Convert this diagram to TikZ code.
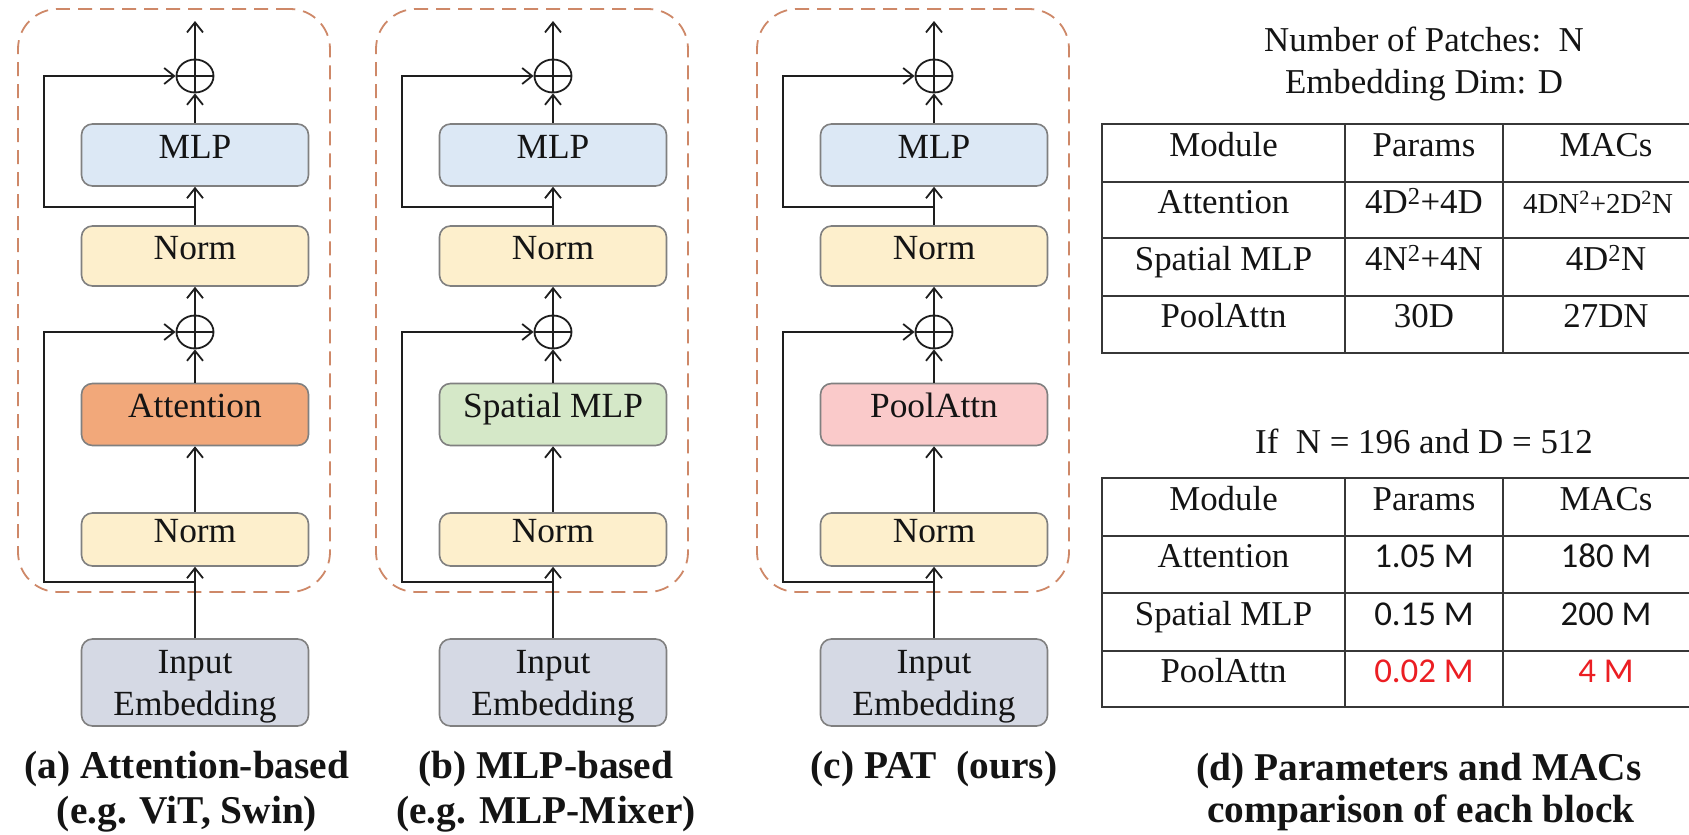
\documentclass[tikz,border=0pt]{standalone}
\usepackage{fontspec}
\setmainfont{Liberation Serif}
\newfontfamily\calib{Carlito}
\usetikzlibrary{arrows.meta,shapes.geometric}
\definecolor{mlpc}{RGB}{220,232,245}
\definecolor{normc}{RGB}{253,239,204}
\definecolor{attc}{RGB}{242,168,122}
\definecolor{smlpc}{RGB}{213,232,200}
\definecolor{poolc}{RGB}{250,202,202}
\definecolor{inpc}{RGB}{213,217,228}
\definecolor{bordc}{RGB}{128,128,128}
\definecolor{dashc}{RGB}{206,136,104}
\definecolor{txtc}{RGB}{20,20,20}
\definecolor{linec}{RGB}{30,30,30}
\definecolor{tabc}{RGB}{55,55,55}
\definecolor{redc}{RGB}{235,30,35}
\tikzset{
  blk/.style={draw=bordc, line width=1.6bp, rounded corners=11bp, minimum width=227bp,
    inner sep=0pt, text=txtc, font=\fontsize{35.5}{42}\selectfont},
  lbl/.style={text height=0.66em, text depth=0pt},
  dashbox/.style={draw=dashc, line width=1.8bp, dash pattern=on 14bp off 8bp, rounded corners=40bp,
    minimum width=312bp, minimum height=583bp, inner sep=0pt},
  sumnode/.style={ellipse, draw=linec, line width=1.8bp, minimum width=37bp, minimum height=33bp, inner sep=0pt},
  conn/.style={draw=linec, line width=1.8bp},
  arr/.style={conn, -{Straight Barb[length=10bp, width=16bp, line width=1.8bp]}},
  cell/.style={text=txtc, inner sep=0pt, text height=0.66em, text depth=0pt, font=\fontsize{35}{40}\selectfont},
  hdr/.style={text=txtc, inner sep=0pt, anchor=base, font=\fontsize{35}{40}\selectfont},
  capt/.style={text=txtc, inner sep=0pt, anchor=base, font=\fontsize{39.5}{45}\selectfont\bfseries},
  tline/.style={draw=tabc, line width=2bp},
}
\newcommand\drawpanel[4]{%
  \node[dashbox] (#1-box) at ({#2-21},300.5) {};
  \node[blk, lbl, fill=mlpc, minimum height=62bp] (#1-mlp) at (#2,155) {MLP};
  \node[blk, lbl, fill=normc, minimum height=60bp] (#1-n2) at (#2,256) {Norm};
  \node[blk, lbl, fill=#4, minimum height=62bp] (#1-mix) at (#2,414.5) {#3};
  \node[blk, lbl, fill=normc, minimum height=53bp] (#1-n1) at (#2,539.5) {Norm};
  \node[blk, fill=inpc, minimum height=87bp, align=center, text depth=0pt] (#1-in) at (#2,682.5) {Input\\Embedding};
  \node[sumnode] (#1-s2) at (#2,76) {};
  \node[sumnode] (#1-s1) at (#2,332) {};
  \draw[conn] (#1-s2.north) -- (#1-s2.south) (#1-s2.west) -- (#1-s2.east);
  \draw[conn] (#1-s1.north) -- (#1-s1.south) (#1-s1.west) -- (#1-s1.east);
  \coordinate (#1-out) at (#2,21);
  \coordinate (#1-b2) at (#2,207);
  \coordinate (#1-b1) at (#2,582);
  \coordinate (#1-k2) at ({#2-151},207);
  \coordinate (#1-k1) at ({#2-151},582);
  \draw[arr] (#1-s2.north) -- (#1-out);
  \draw[arr] (#1-mlp.north) -- (#1-s2.south);
  \draw[arr] (#1-n2.north) -- (#1-mlp.south);
  \draw[arr] (#1-s1.north) -- (#1-n2.south);
  \draw[arr] (#1-mix.north) -- (#1-s1.south);
  \draw[arr] (#1-n1.north) -- (#1-mix.south);
  \draw[arr] (#1-in.north) -- (#1-n1.south);
  \draw[arr] (#1-b2) -- (#1-k2) |- (#1-s2.west);
  \draw[arr] (#1-b1) -- (#1-k1) |- (#1-s1.west);
}
\begin{document}
\begin{tikzpicture}[x=1bp, y=-1bp]
\useasboundingbox (0,0) rectangle (1689,835);
\fill[white] (0,0) rectangle (1689,835);
\clip (0,0) rectangle (1689,835);

\drawpanel{a}{195}{Attention}{attc}
\drawpanel{b}{553}{Spatial MLP}{smlpc}
\drawpanel{c}{934}{PoolAttn}{poolc}

\node[capt] (capa1) at (187,778) {(a) Attention-based};
\node[capt] (capa2) at (187,823) {(e.g. ViT, Swin)};
\node[capt] (capb1) at (546,778) {(b) MLP-based};
\node[capt] (capb2) at (546,823) {(e.g. MLP-Mixer)};
\node[capt] (capc1) at (934,778) {(c) PAT\ \ (ours)};
\node[capt] (capd1) at (1419,780) {(d) Parameters and MACs};
\node[capt] (capd2) at (1421,822) {comparison of each block};

% header texts
\node[hdr] (h1) at (1424,51) {Number of Patches:\ \ N};
\node[hdr] (h2) at (1424,93) {Embedding Dim: D};
\node[hdr] (h3) at (1424,453) {If\ \ N = 196 and D = 512};

% table 1
\draw[tline] (1102,124) rectangle (1709,353);
\draw[tline] (1102,182) -- (1709,182) (1102,238) -- (1709,238) (1102,296) -- (1709,296);
\draw[tline] (1345,124) -- (1345,353) (1503,124) -- (1503,353);
\node[cell] (t1a) at (1223.5,153) {Module};
\node[cell] (t1b) at (1424,153) {Params};
\node[cell] (t1c) at (1606,153) {MACs};
\node[cell] (t1d) at (1223.5,210) {Attention};
\node[cell] (t1e) at (1424,210) {4D\textsuperscript{2}+4D};
\node[cell, font=\fontsize{29}{34}\selectfont] (t1f) at (1598,210) {4DN\textsuperscript{2}+2D\textsuperscript{2}N};
\node[cell] (t1g) at (1223.5,267) {Spatial MLP};
\node[cell] (t1h) at (1424,267) {4N\textsuperscript{2}+4N};
\node[cell] (t1i) at (1606,267) {4D\textsuperscript{2}N};
\node[cell] (t1j) at (1223.5,324.5) {PoolAttn};
\node[cell] (t1k) at (1424,324.5) {30D};
\node[cell] (t1l) at (1606,324.5) {27DN};

% table 2
\draw[tline] (1102,478) rectangle (1709,707);
\draw[tline] (1102,536) -- (1709,536) (1102,593) -- (1709,593) (1102,651) -- (1709,651);
\draw[tline] (1345,478) -- (1345,707) (1503,478) -- (1503,707);
\node[cell] (t2a) at (1223.5,507) {Module};
\node[cell] (t2b) at (1424,507) {Params};
\node[cell] (t2c) at (1606,507) {MACs};
\node[cell] (t2d) at (1223.5,564.5) {Attention};
\node[cell, font=\fontsize{35}{40}\calib] (t2e) at (1424,564.5) {1.05 M};
\node[cell, font=\fontsize{35}{40}\calib] (t2f) at (1606,564.5) {180 M};
\node[cell] (t2g) at (1223.5,622) {Spatial MLP};
\node[cell, font=\fontsize{35}{40}\calib] (t2h) at (1424,622) {0.15 M};
\node[cell, font=\fontsize{35}{40}\calib] (t2i) at (1606,622) {200 M};
\node[cell] (t2j) at (1223.5,679) {PoolAttn};
\node[cell, font=\fontsize{35}{40}\calib, text=redc] (t2k) at (1424,679) {0.02 M};
\node[cell, font=\fontsize{35}{40}\calib, text=redc] (t2l) at (1606,679) {4 M};
\end{tikzpicture}
\end{document}
